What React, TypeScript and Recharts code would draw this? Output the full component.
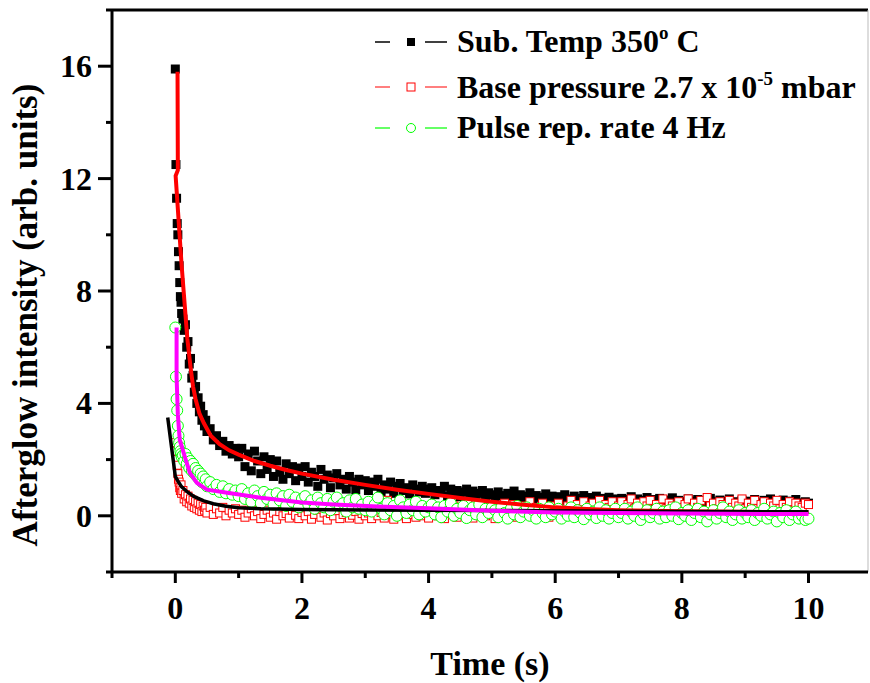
import {
  ComposedChart, Scatter, XAxis, YAxis, ReferenceLine,
} from 'recharts';

// time grid shared by the three measured series (s)
const TIME = [
  0, 0.01, 0.02, 0.03, 0.04, 0.05, 0.06, 0.07, 0.08, 0.09, 0.1,
  0.12, 0.14, 0.16, 0.18, 0.2, 0.22, 0.24, 0.26, 0.28, 0.3,
  0.32, 0.34, 0.36, 0.38, 0.4, 0.42, 0.44, 0.46, 0.48, 0.5,
  0.55, 0.6, 0.65, 0.7, 0.75, 0.8, 0.85, 0.9, 0.95, 1.0,
  1.05, 1.1, 1.15, 1.2, 1.25, 1.3, 1.35, 1.4, 1.45, 1.5, 1.55, 1.6, 1.65, 1.7, 1.75, 1.8, 1.85, 1.9, 1.95, 2.0,
  2.05, 2.1, 2.15, 2.2, 2.25, 2.3, 2.35, 2.4, 2.45, 2.5, 2.55, 2.6, 2.65, 2.7, 2.75, 2.8, 2.85, 2.9, 2.95, 3.0,
  3.05, 3.1, 3.15, 3.2, 3.25, 3.3, 3.35, 3.4, 3.45, 3.5, 3.55, 3.6, 3.65, 3.7, 3.75, 3.8, 3.85, 3.9, 3.95, 4.0,
  4.05, 4.1, 4.15, 4.2, 4.25, 4.3, 4.35, 4.4, 4.45, 4.5, 4.55, 4.6, 4.65, 4.7, 4.75, 4.8, 4.85, 4.9, 4.95, 5.0,
  5.05, 5.1, 5.15, 5.2, 5.25, 5.3, 5.35, 5.4, 5.45, 5.5, 5.55, 5.6, 5.65, 5.7, 5.75, 5.8, 5.85, 5.9, 5.95, 6.0,
  6.05, 6.1, 6.15, 6.2, 6.25, 6.3, 6.35, 6.4, 6.45, 6.5, 6.55, 6.6, 6.65, 6.7, 6.75, 6.8, 6.85, 6.9, 6.95, 7.0,
  7.05, 7.1, 7.15, 7.2, 7.25, 7.3, 7.35, 7.4, 7.45, 7.5, 7.55, 7.6, 7.65, 7.7, 7.75, 7.8, 7.85, 7.9, 7.95, 8.0,
  8.05, 8.1, 8.15, 8.2, 8.25, 8.3, 8.35, 8.4, 8.45, 8.5, 8.55, 8.6, 8.65, 8.7, 8.75, 8.8, 8.85, 8.9, 8.95, 9.0,
  9.05, 9.1, 9.15, 9.2, 9.25, 9.3, 9.35, 9.4, 9.45, 9.5, 9.55, 9.6, 9.65, 9.7, 9.75, 9.8, 9.85, 9.9, 9.95, 10.0,
];

// Sub. Temp 350 C (black squares)
const SUB_TEMP = [
  15.9, 12.5, 11.3, 10.4, 10.0, 9.4, 8.9, 8.3, 7.8, 7.6, 7.2,
  7.0, 6.6, 6.8, 6.0, 6.2, 5.4, 5.6, 4.9, 5.0, 4.4,
  4.6, 4.0, 4.2, 3.7, 3.9, 3.4, 3.6, 3.2, 3.4, 3.0,
  3.1, 2.7, 2.85, 2.5, 2.65, 2.3, 2.5, 2.2, 2.4, 2.1,
  2.4, 1.75, 2.2, 1.6, 2.3, 1.95, 1.5, 2.1, 1.65, 2.0, 1.4, 1.95, 1.55, 1.3, 1.85, 1.5, 1.75, 1.25, 1.7, 1.4,
  1.75, 1.2, 1.55, 1.4, 1.05, 1.65, 1.3, 1.45, 1.0, 1.35, 1.5, 1.1, 1.3, 0.95, 1.4, 1.2, 0.92, 1.3, 1.1, 1.25,
  0.9, 1.2, 1.05, 1.3, 0.85, 1.1, 0.95, 1.2, 0.8, 1.05, 1.15, 0.9, 1.0, 0.78, 1.1, 0.95, 0.85, 1.05, 0.8, 0.95,
  1.0, 0.75, 0.9, 0.85, 1.05, 0.7, 0.95, 0.8, 0.9, 0.68, 0.85, 0.95, 0.72, 0.88, 0.65, 0.8, 0.9, 0.7, 0.82, 0.75,
  0.65, 0.85, 0.72, 0.6, 0.8, 0.7, 0.88, 0.62, 0.75, 0.58, 0.7, 0.82, 0.6, 0.72, 0.66, 0.55, 0.78, 0.62, 0.7, 0.58,
  0.68, 0.55, 0.75, 0.6, 0.52, 0.7, 0.62, 0.5, 0.72, 0.58, 0.65, 0.5, 0.7, 0.55, 0.62, 0.48, 0.66, 0.55, 0.6, 0.5,
  0.62, 0.48, 0.58, 0.68, 0.5, 0.6, 0.45, 0.55, 0.65, 0.48, 0.58, 0.5, 0.62, 0.44, 0.56, 0.5, 0.64, 0.46, 0.55, 0.5,
  0.45, 0.6, 0.52, 0.42, 0.58, 0.48, 0.55, 0.4, 0.62, 0.5, 0.45, 0.56, 0.42, 0.52, 0.6, 0.44, 0.5, 0.4, 0.55, 0.46,
  0.52, 0.42, 0.58, 0.46, 0.4, 0.55, 0.48, 0.6, 0.42, 0.5, 0.45, 0.56, 0.4, 0.52, 0.44, 0.58, 0.46, 0.4, 0.5, 0.45,
];

// Base pressure 2.7 x 10^-5 mbar (red open squares)
const BASE_PRESSURE = [
  2.6, 2.3, 2.0, 1.8, 1.5, 1.3, 1.2, 1.0, 0.9, 1.1, 0.8,
  0.9, 0.6, 0.75, 0.5, 0.7, 0.45, 0.6, 0.35, 0.55, 0.3,
  0.5, 0.25, 0.45, 0.2, 0.4, 0.15, 0.35, 0.2, 0.3, 0.1,
  0.3, 0.05, 0.25, 0.1, 0.3, 0.0, 0.2, 0.1, 0.25, 0.05,
  0.2, -0.05, 0.1, 0.25, 0.0, 0.15, -0.1, 0.05, 0.2, -0.05, 0.1, -0.12, 0.15, 0.0, 0.08, -0.08, 0.2, 0.02, -0.1, 0.12,
  0.0, 0.15, -0.12, 0.05, 0.2, -0.05, 0.1, -0.15, 0.08, 0.0, 0.18, -0.1, 0.05, 0.12, -0.08, 0.02, 0.15, -0.12, 0.08, 0.0,
  0.1, -0.1, 0.2, 0.0, 0.12, -0.08, 0.55, 0.05, -0.12, 0.15, 0.0, 0.1, -0.1, 0.2, 0.05, -0.05, 0.12, 0.0, 0.25, -0.08,
  0.15, 0.3, 0.0, 0.2, -0.1, 0.25, 0.1, 0.35, -0.05, 0.15, 0.3, 0.05, 0.2, -0.08, 0.4, 0.1, 0.25, 0.0, 0.3, 0.15,
  -0.1, 0.3, 0.15, 0.45, 0.05, 0.25, 0.4, -0.05, 0.2, 0.35, 0.1, 0.5, 0.0, 0.3, 0.15, 0.45, 0.2, -0.05, 0.35, 0.1,
  0.45, 0.2, 0.0, 0.35, 0.55, 0.15, 0.4, 0.25, 0.5, 0.05, 0.35, 0.45, 0.2, 0.55, 0.1, 0.4, 0.3, 0.5, 0.15, 0.35,
  0.5, 0.2, 0.4, 0.6, 0.25, 0.45, 0.15, 0.5, 0.35, 0.55, 0.2, 0.4, 0.3, 0.6, 0.25, 0.45, 0.35, 0.15, 0.5, 0.3,
  0.4, 0.6, 0.25, 0.45, 0.3, 0.55, 0.2, 0.65, 0.35, 0.45, 0.25, 0.5, 0.4, 0.2, 0.55, 0.3, 0.45, 0.35, 0.6, 0.25,
  0.45, 0.3, 0.55, 0.25, 0.4, 0.5, 0.2, 0.45, 0.35, 0.55, 0.25, 0.4, 0.3, 0.5, 0.2, 0.45, 0.35, 0.3, 0.45, 0.4,
];

// Pulse rep. rate 4 Hz (green open circles)
const PULSE_RATE = [
  6.7, 4.95, 4.15, 3.75, 3.2, 2.85, 2.6, 2.45, 2.3, 2.2, 2.1,
  2.15, 1.95, 2.2, 1.85, 2.05, 1.7, 1.95, 1.6, 1.85, 1.5,
  1.7, 1.4, 1.6, 1.3, 1.5, 1.2, 1.4, 1.15, 1.3, 1.05,
  1.2, 0.95, 1.1, 0.85, 1.05, 0.8, 0.95, 0.75, 0.9, 0.7,
  0.95, 0.6, 0.8, 0.5, 0.9, 0.7, 0.45, 0.85, 0.6, 0.75, 0.4, 0.8, 0.55, 0.7, 0.35, 0.75, 0.5, 0.65, 0.3, 0.6,
  0.7, 0.4, 0.55, 0.25, 0.65, 0.45, 0.3, 0.6, 0.2, 0.5, 0.65, 0.35, 0.45, 0.15, 0.55, 0.3, 0.6, 0.25, 0.4, 0.2,
  0.5, 0.15, 0.4, 0.65, 0.25, 0.05, 0.45, 0.2, 0.35, 0.0, 0.55, 0.3, 0.1, 0.4, 0.2, 0.5, 0.05, 0.35, 0.15, 0.3,
  0.4, 0.05, 0.3, -0.05, 0.35, 0.15, 0.45, 0.0, 0.25, 0.1, 0.35, -0.08, 0.2, 0.3, 0.05, 0.4, -0.05, 0.25, 0.1, 0.3,
  0.2, -0.05, 0.3, 0.1, -0.1, 0.25, 0.05, 0.35, -0.05, 0.15, 0.3, 0.0, 0.2, -0.1, 0.25, 0.1, -0.05, 0.3, 0.05, 0.15,
  0.25, -0.1, 0.15, 0.0, 0.3, -0.05, 0.2, 0.1, -0.12, 0.25, 0.05, 0.15, -0.08, 0.3, 0.0, 0.2, -0.1, 0.1, 0.25, -0.05,
  0.1, 0.25, -0.1, 0.15, 0.0, 0.3, -0.15, 0.05, 0.2, -0.05, 0.1, 0.25, -0.1, 0.15, -0.05, 0.2, 0.0, 0.3, -0.12, 0.1,
  0.0, 0.2, -0.15, 0.1, 0.25, -0.05, 0.15, -0.2, 0.05, 0.2, -0.1, 0.1, 0.3, -0.05, 0.15, -0.15, 0.05, 0.2, -0.1, 0.1,
  -0.05, 0.2, -0.15, 0.1, 0.0, 0.25, -0.1, 0.05, 0.15, -0.2, 0.1, -0.05, 0.2, -0.15, 0.05, 0.15, -0.1, 0.0, -0.15, -0.1,
];

// fitted decay curves
const FIT_SUB_T = [0.035, 0.04, 0.005, 0.1, 0.19, 0.24, 0.28, 0.32, 0.38, 0.45, 0.56, 0.7, 0.85, 1.0, 1.25, 1.5, 1.75, 2.0, 2.5, 3.0, 3.5, 4.0, 4.5, 5.0, 5.5, 6.0, 6.5, 7.0, 8.0, 9.0, 10.0];
const FIT_SUB_Y = [15.8, 12.3, 12.1, 8.9, 6.3, 5.3, 4.6, 4.15, 3.65, 3.3, 2.85, 2.55, 2.33, 2.18, 1.95, 1.78, 1.63, 1.5, 1.28, 1.1, 0.93, 0.78, 0.63, 0.5, 0.39, 0.3, 0.24, 0.2, 0.16, 0.14, 0.13];

const FIT_BASE_T = [-0.12, 0.0, 0.05, 0.1, 0.2, 0.3, 0.45, 0.6, 0.8, 1.0, 1.35, 2.0, 3.0, 4.0, 5.0, 7.0, 10.0];
const FIT_BASE_Y = [3.5, 1.4, 1.2, 1.03, 0.83, 0.68, 0.53, 0.43, 0.34, 0.29, 0.25, 0.22, 0.21, 0.2, 0.19, 0.16, 0.14];

const FIT_PULSE_T = [0.02, 0.02, 0.04, 0.07, 0.15, 0.23, 0.34, 0.5, 0.82, 1.35, 2.0, 2.5, 3.2, 4.0, 5.0, 6.0, 8.0, 10.0];
const FIT_PULSE_Y = [6.7, 4.95, 3.6, 2.7, 2.1, 1.53, 1.17, 0.93, 0.82, 0.64, 0.47, 0.4, 0.33, 0.27, 0.18, 0.12, 0.08, 0.06];

const X_TICKS = [-1, 0, 1, 2, 3, 4, 5, 6, 7, 8, 9, 10];
const Y_TICKS = [-2, 0, 2, 4, 6, 8, 10, 12, 14, 16, 18];

const toPoints = (xs: number[], ys: number[]) => xs.map((x, i) => ({ x, y: ys[i] }));

const subTemp = toPoints(TIME, SUB_TEMP);
const basePressure = toPoints(TIME, BASE_PRESSURE);
const pulseRate = toPoints(TIME, PULSE_RATE);
const fitSub = toPoints(FIT_SUB_T, FIT_SUB_Y);
const fitBase = toPoints(FIT_BASE_T, FIT_BASE_Y);
const fitPulse = toPoints(FIT_PULSE_T, FIT_PULSE_Y);

const FONT = "'Liberation Serif', 'Times New Roman', serif";

const XTick = ({ x, y, payload }: any) => {
  const major = payload.value % 2 === 0;
  return (
    <g>
      <line x1={x} y1={y} x2={x} y2={y + (major ? 11 : 6)} stroke="#000" strokeWidth={3} />
      {major && (
        <text x={x} y={y + 47} textAnchor="middle" fontFamily={FONT} fontWeight="bold" fontSize={32} fill="#000">
          {payload.value}
        </text>
      )}
    </g>
  );
};

const YTick = ({ x, y, payload }: any) => {
  const major = payload.value % 4 === 0;
  return (
    <g>
      <line x1={x} y1={y} x2={x - (major ? 14 : 6)} y2={y} stroke="#000" strokeWidth={3} />
      {major && (
        <text x={x - 20} y={y + 11} textAnchor="end" fontFamily={FONT} fontWeight="bold" fontSize={32} fill="#000">
          {payload.value}
        </text>
      )}
    </g>
  );
};

const filledSquare = ({ cx, cy }: any) => (
  <rect x={cx - 4.5} y={cy - 4.5} width={9} height={9} fill="#000" />
);
const openSquare = ({ cx, cy }: any) => (
  <rect x={cx - 4} y={cy - 4} width={8} height={8} fill="#fff" stroke="#f00" strokeWidth={1} />
);
const openCircle = ({ cx, cy }: any) => (
  <circle cx={cx} cy={cy} r={5.5} fill="#fff" stroke="#0f0" strokeWidth={1} />
);
const noMarker = () => <g />;

const LEGEND_ROWS = [
  { y: 42, color: '#000', marker: 'filled' },
  { y: 87, color: '#f55', marker: 'square' },
  { y: 128, color: '#3f3', marker: 'circle' },
];

function LegendBox() {
  return (
    <svg width={870} height={683} style={{ position: 'absolute', left: 0, top: 0, pointerEvents: 'none' }}>
      {LEGEND_ROWS.map(r => (
        <g key={r.y}>
          <line x1={375} x2={390} y1={r.y} y2={r.y} stroke={r.color} strokeWidth={1.5} />
          <line x1={425} x2={447} y1={r.y} y2={r.y} stroke={r.color} strokeWidth={1.5} />
          {r.marker === 'filled' && <rect x={407} y={r.y - 4} width={8} height={8} fill="#000" />}
          {r.marker === 'square' && <rect x={407} y={r.y - 4} width={8} height={8} fill="#fff" stroke="#f00" />}
          {r.marker === 'circle' && <circle cx={411} cy={r.y} r={4.5} fill="#fff" stroke="#0f0" />}
        </g>
      ))}
      <g fontFamily={FONT} fontWeight="bold" fontSize={32} fill="#000">
        <text x={457} y={52}>
          Sub. Temp 350<tspan dy={-13} fontSize={19}>o</tspan><tspan dy={13}> C</tspan>
        </text>
        <text x={457} y={98}>
          Base pressure 2.7 x 10<tspan dy={-13} fontSize={19}>-5</tspan><tspan dy={13}> mbar</tspan>
        </text>
        <text x={457} y={138}>Pulse rep. rate 4 Hz</text>
      </g>
    </svg>
  );
}

export default function App() {
  return (
    <div style={{ position: 'absolute', left: 0, top: 0, width: 870, height: 683, background: '#fff' }}>
      <ComposedChart width={870} height={683} margin={{ top: 10, right: 2, bottom: 110, left: 111 }}>
        <XAxis
          type="number"
          dataKey="x"
          domain={[-1, 10.94]}
          ticks={X_TICKS}
          allowDataOverflow
          height={1}
          tickSize={0}
          tickMargin={0}
          tickLine={false}
          tick={<XTick />}
          axisLine={{ stroke: '#000', strokeWidth: 3 }}
          label={{
            value: 'Time (s)', position: 'bottom', offset: 78,
            style: { fontFamily: FONT, fontWeight: 'bold', fontSize: 34, fill: '#000' },
          }}
        />
        <YAxis
          type="number"
          dataKey="y"
          domain={[-2, 18]}
          ticks={Y_TICKS}
          allowDataOverflow
          width={1}
          tickSize={0}
          tickMargin={0}
          tickLine={false}
          tick={<YTick />}
          axisLine={{ stroke: '#000', strokeWidth: 3 }}
          label={{
            content: () => (
              <text
                x={37} y={315} transform="rotate(-90, 37, 315)" textAnchor="middle"
                fontFamily={FONT} fontWeight="bold" fontSize={35} fill="#000"
              >
                Afterglow intensity (arb. units)
              </text>
            ),
          }}
        />
        <ReferenceLine y={18} stroke="#000" strokeWidth={3} />
        <ReferenceLine x={10.94} stroke="#bbb" strokeWidth={1} />
        <Scatter data={subTemp} dataKey="y" shape={filledSquare} isAnimationActive={false} />
        <Scatter data={basePressure} dataKey="y" shape={openSquare} isAnimationActive={false} />
        <Scatter data={pulseRate} dataKey="y" shape={openCircle} isAnimationActive={false} />
        <Scatter
          data={fitSub} dataKey="y" shape={noMarker} lineType="joint"
          line={{ stroke: '#f00', strokeWidth: 4 }} isAnimationActive={false}
        />
        <Scatter
          data={fitBase} dataKey="y" shape={noMarker} lineType="joint"
          line={{ stroke: '#000', strokeWidth: 3.5 }} isAnimationActive={false}
        />
        <Scatter
          data={fitPulse} dataKey="y" shape={noMarker} lineType="joint"
          line={{ stroke: '#f0f', strokeWidth: 4 }} isAnimationActive={false}
        />
      </ComposedChart>
      <LegendBox />
    </div>
  );
}
